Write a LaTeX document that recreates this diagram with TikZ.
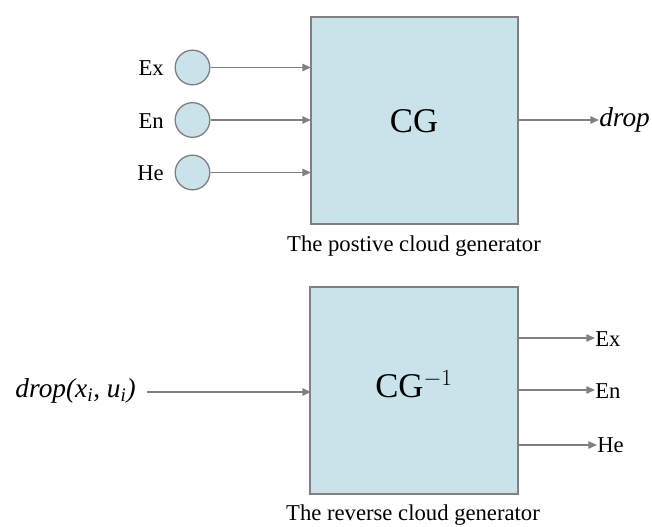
\documentclass[tikz,border=0pt]{standalone}
\usepackage{fontspec}
\setmainfont{Liberation Serif}
\usetikzlibrary{arrows.meta}
\definecolor{boxfill}{HTML}{CAE3EA}
\definecolor{edge}{HTML}{808080}
\begin{document}
\begin{tikzpicture}[x=0.75pt,y=-0.75pt,
  gen/.style={draw=edge,line width=1.5pt,fill=boxfill,minimum width=155.5pt,minimum height=155.5pt,inner sep=0pt},
  param/.style={circle,draw=edge,line width=1pt,fill=boxfill,minimum size=26pt,inner sep=0pt},
  lbl/.style={font=\fontsize{17pt}{20pt}\selectfont,inner sep=0pt},
  big/.style={font=\fontsize{26pt}{31pt}\selectfont,inner sep=0pt},
  ital/.style={font=\fontsize{20.5pt}{24pt}\selectfont\itshape,inner sep=0pt},
  conn/.style={draw=edge,line width=1.2pt,-{Triangle[length=6.5pt,width=5.5pt]}}]
\useasboundingbox (0,0) rectangle (652,527);
% top generator
\node[gen] (cg) at (414.5,120.5) {};
\node[big] (cgt) at (414,121) {CG};
\node[param] (c1) at (192.5,67.5) {};
\node[param] (c2) at (192.5,120) {};
\node[param] (c3) at (192.5,172.5) {};
\node[lbl,anchor=east] (l1) at (164,68) {Ex};
\node[lbl,anchor=east] (l2) at (164,121) {En};
\node[lbl,anchor=east] (l3) at (164,173) {He};
\coordinate (a1) at (311,67.5);
\coordinate (a2) at (311,120);
\coordinate (a3) at (311,172.5);
\draw[conn] (c1.east) -- (a1);
\draw[conn] (c2.east) -- (a2);
\draw[conn] (c3.east) -- (a3);
\coordinate (o0) at (518,120);
\node[ital,anchor=west] (drop) at (599,120) {drop};
\draw[conn] (o0) -- (drop.west);
\node[lbl] (cap1) at (414,246) {The postive cloud generator};
% reverse generator
\node[gen] (rg) at (414,390.5) {};
\node[big] (rgt) at (414,384) {CG$^{-1}$};
\node[ital,anchor=east] (din) at (136,391) {drop(x\textsubscript{i}, u\textsubscript{i})};
\coordinate (dstart) at (147,392);
\coordinate (b0) at (311,392);
\draw[conn] (dstart) -- (b0);
\coordinate (r1) at (518,338);
\coordinate (r2) at (518,390);
\coordinate (r3) at (518,445);
\node[lbl,anchor=west] (e1) at (595,339) {Ex};
\node[lbl,anchor=west] (e2) at (595,391) {En};
\node[lbl,anchor=west] (e3) at (597,445) {He};
\draw[conn] (r1) -- (e1.west|-r1);
\draw[conn] (r2) -- (e2.west|-r2);
\draw[conn] (r3) -- (e3.west|-r3);
\node[lbl] (cap2) at (413,515) {The reverse cloud generator};
\end{tikzpicture}
\end{document}
